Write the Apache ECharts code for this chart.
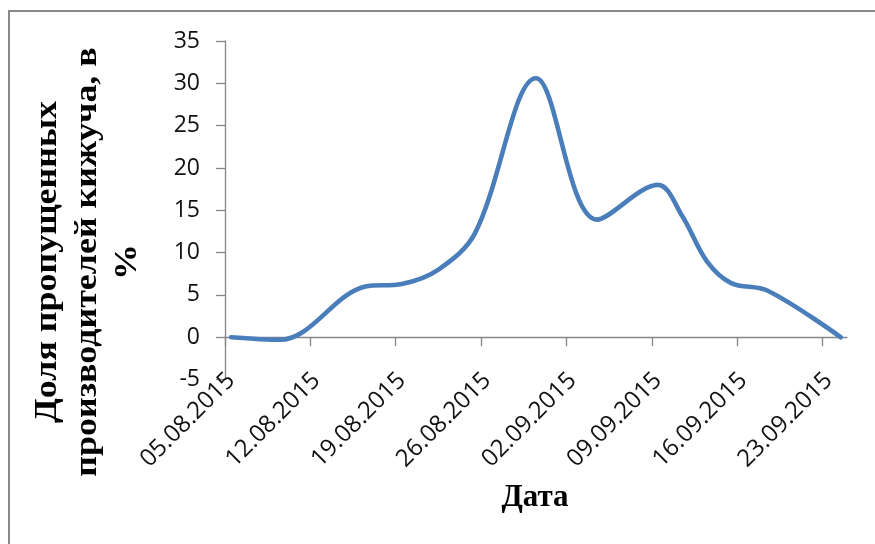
<!DOCTYPE html>
<html>
<head>
<meta charset="utf-8">
<script src="https://cdn.jsdelivr.net/npm/echarts@6/dist/echarts.min.js"></script>
<style>
  html, body { margin: 0; padding: 0; background: #fff; }
  #chart { width: 875px; height: 544px; }
</style>
</head>
<body>
<div id="chart"></div>
<script>
// Observation dates and share of missed coho spawners, %
const dates = ['05.08.2015', '09.08.2015', '16.08.2015', '19.08.2015', '22.08.2015',
               '25.08.2015', '30.08.2015', '04.09.2015', '09.09.2015', '11.09.2015',
               '13.09.2015', '15.09.2015', '18.09.2015', '24.09.2015'];
const shares = [0, -0.3, 6.0, 6.3, 8.0, 12.3, 30.6, 13.9, 18.0, 14.3, 9.0, 6.4, 5.5, 0];

// Date-axis tick labels (weekly)
const tickDates = ['05.08.2015', '12.08.2015', '19.08.2015', '26.08.2015',
                   '02.09.2015', '09.09.2015', '16.09.2015', '23.09.2015'];
// Axis span: first day up to (not including) the last day
const axisStart = '05.08.2015';
const axisEnd = '25.09.2015';

// Value axis range
const yMin = -5, yMax = 35, yStep = 5;

const DAY = 86400000;
function toUTC(s) {
  const [d, m, y] = s.split('.').map(Number);
  return Date.UTC(y, m - 1, d);
}
function dayIndex(s) { return Math.round((toUTC(s) - toUTC(axisStart)) / DAY); }
function fmt(idx) {
  const t = new Date(toUTC(axisStart) + idx * DAY);
  const p = n => String(n).padStart(2, '0');
  return p(t.getUTCDate()) + '.' + p(t.getUTCMonth() + 1) + '.' + t.getUTCFullYear();
}

// Each day occupies one slot; points sit in the middle of their day
const seriesData = dates.map((d, i) => [dayIndex(d) + 0.5, shares[i]]);
const tickValues = tickDates.map(dayIndex);
const labelValues = tickDates.map(d => dayIndex(d) + 0.5);
const span = dayIndex(axisEnd);

const axisColor = '#868686';
const labelFont = '"Open Sans", "Liberation Sans", sans-serif';
const titleFont = '"Liberation Serif", "DejaVu Serif", serif';

const chart = echarts.init(document.getElementById('chart'), null, { renderer: 'canvas' });
chart.setOption({
  backgroundColor: '#ffffff',
  animation: false,
  grid: {
    left: 225, right: 28, top: 41, bottom: 164.4,
    containLabel: false,
    outerBoundsMode: 'none'
  },
  xAxis: [
    {
      // date labels along the bottom of the plot
      type: 'value', min: 0, max: span, interval: 7, position: 'bottom',
      axisLine: { show: false, onZero: false },
      axisTick: { show: false },
      splitLine: { show: false },
      axisLabel: {
        customValues: labelValues,
        formatter: v => fmt(Math.floor(v)),
        rotate: 45,
        margin: -3,
        fontFamily: labelFont,
        fontSize: 24,
        color: '#111'
      }
    },
    {
      // horizontal axis line through zero with weekly ticks
      type: 'value', min: 0, max: span, interval: 7, position: 'bottom',
      axisLine: { show: true, onZero: true, onZeroAxisIndex: 0, lineStyle: { color: axisColor, width: 1.3 } },
      axisTick: { show: true, customValues: tickValues, length: 9, lineStyle: { color: axisColor, width: 1.3 } },
      axisLabel: { show: false },
      splitLine: { show: false }
    }
  ],
  yAxis: {
    type: 'value', min: yMin, max: yMax, interval: yStep,
    axisLine: { show: true, onZero: false, lineStyle: { color: axisColor, width: 1.3 } },
    axisTick: { show: true, length: 9, lineStyle: { color: axisColor, width: 1.3 } },
    splitLine: { show: false },
    axisLabel: {
      margin: 25,
      fontFamily: labelFont,
      fontSize: 23,
      color: '#111'
    }
  },
  series: [{
    type: 'line',
    xAxisIndex: 0,
    data: seriesData,
    smooth: 0.35,
    showSymbol: false,
    lineStyle: { color: '#4a7ebb', width: 4.6, cap: 'round', join: 'round' }
  }],
  graphic: [
    {
      type: 'rect', z: -10,
      shape: { x: 9, y: 11, width: 900, height: 600 },
      style: { fill: 'none', stroke: '#898989', lineWidth: 2 }
    },
    {
      // vertical axis title, read bottom to top
      type: 'text', x: 88, y: 262, rotation: Math.PI / 2, scaleX: 1.16,
      style: {
        text: 'Доля пропущенных\nпроизводителей кижуча, в\n%',
        fontFamily: titleFont, fontWeight: 'bold', fontSize: 31, lineHeight: 40,
        fill: '#000', align: 'center', verticalAlign: 'middle'
      }
    },
    {
      type: 'text', x: 535, y: 498,
      style: {
        text: 'Дата',
        fontFamily: titleFont, fontWeight: 'bold', fontSize: 31,
        fill: '#000', align: 'center', verticalAlign: 'middle'
      }
    }
  ]
});
</script>
</body>
</html>
